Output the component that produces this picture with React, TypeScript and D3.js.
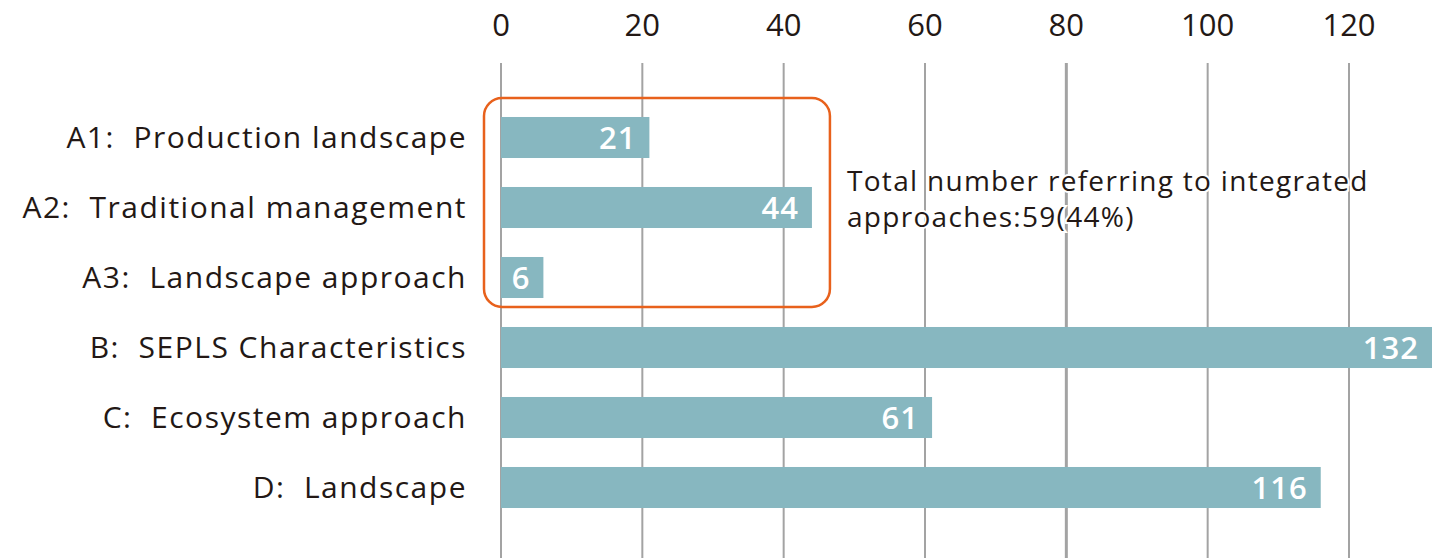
import React from "react";
import * as d3 from "d3";

const categories = [
  "A1:  Production landscape",
  "A2:  Traditional management",
  "A3:  Landscape approach",
  "B:  SEPLS Characteristics",
  "C:  Ecosystem approach",
  "D:  Landscape",
];
const counts = [21, 44, 6, 132, 61, 116];
const tickValues = [0, 20, 40, 60, 80, 100, 120];
const noteLines = ["Total number referring to integrated", "approaches:59(44%)"];

const width = 1432;
const height = 558;
const font = "'Open Sans', 'Noto Sans', sans-serif";
const textColor = "#231815";
const barColor = "#87b7c0";

export default function App() {
  const x = d3.scaleLinear().domain([0, 120]).range([501, 1349]);
  const y = d3
    .scaleBand<string>()
    .domain(categories)
    .range([102.5, 522.5])
    .paddingInner(0.414)
    .paddingOuter(0.207);

  // the boxed group: A1..A3
  const boxTop = y(categories[0])! - 19;
  const boxBottom = y(categories[2])! + y.bandwidth() + 9;
  const boxLeft = x(0) - 17;
  const boxRight = x(counts[1]) + 18;

  return (
    <svg
      width={width}
      height={height}
      style={{ position: "absolute", left: 0, top: 0, background: "#fff" }}
      fontFamily={font}
    >
      {tickValues.map((t) => (
        <g key={t}>
          <line
            x1={x(t)}
            x2={x(t)}
            y1={63}
            y2={height}
            stroke="#a3a3a3"
            strokeWidth={t === 80 ? 3 : 2}
          />
          <text x={x(t)} y={36} textAnchor="middle" fontSize={31} fill={textColor}>
            {t}
          </text>
        </g>
      ))}

      {categories.map((c, i) => (
        <g key={c}>
          <rect
            x={x(0)}
            y={y(c)}
            width={Math.min(x(counts[i]), width) - x(0)}
            height={y.bandwidth()}
            fill={barColor}
          />
          <text
            x={467}
            y={y(c)! + y.bandwidth() / 2}
            dy="0.36em"
            textAnchor="end"
            fontSize={30}
            letterSpacing={1.5}
            xmlSpace="preserve"
            fill={textColor}
          >
            {c}
          </text>
          <text
            x={Math.min(x(counts[i]), width) - 13}
            y={y(c)! + y.bandwidth() / 2}
            dy="0.37em"
            textAnchor="end"
            fontSize={31}
            fontWeight={600}
            letterSpacing={1}
            fill="#fff"
          >
            {counts[i]}
          </text>
        </g>
      ))}

      <rect
        x={boxLeft}
        y={boxTop}
        width={boxRight - boxLeft}
        height={boxBottom - boxTop}
        rx={18}
        fill="none"
        stroke="#e8611c"
        strokeWidth={2.5}
      />

      {noteLines.map((l, i) => (
        <text
          key={l}
          x={847}
          y={191 + i * 36}
          fontSize={28}
          letterSpacing={1.3}
          fill={textColor}
          stroke="#fff"
          strokeWidth={4}
          paintOrder="stroke"
        >
          {l}
        </text>
      ))}
    </svg>
  );
}
